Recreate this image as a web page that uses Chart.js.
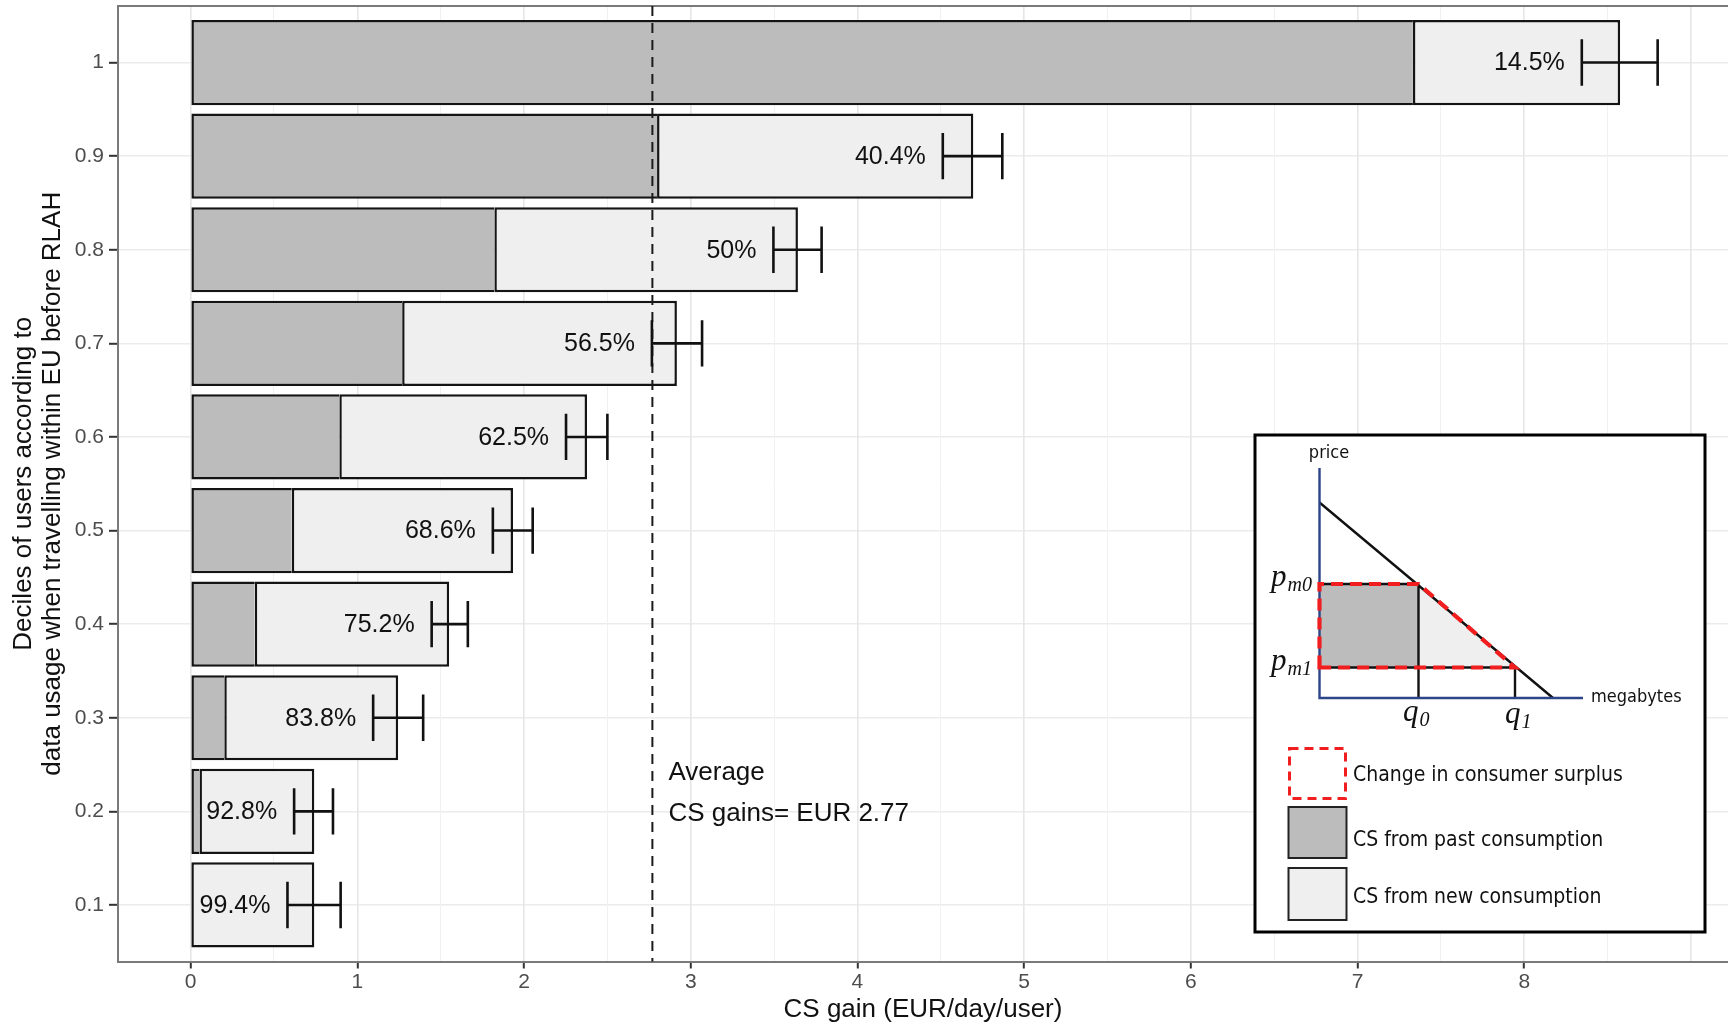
<!DOCTYPE html>
<html>
<head>
<meta charset="utf-8">
<script src="https://cdn.jsdelivr.net/npm/chart.js@4.4.1/dist/chart.umd.min.js"></script>
<style>
html,body{margin:0;padding:0;background:#fff;overflow:hidden}
#wrap{position:relative;width:1728px;height:1027px}
</style>
</head>
<body>
<div id="wrap"><canvas id="c" width="1728" height="1027"></canvas></div>
<script>
// ---------- data ----------
const deciles      = [0.1, 0.2, 0.3, 0.4, 0.5, 0.6, 0.7, 0.8, 0.9, 1.0];
const yTickLabels  = ['0.1','0.2','0.3','0.4','0.5','0.6','0.7','0.8','0.9','1'];
const xTickLabels  = [0, 1, 2, 3, 4, 5, 6, 7, 8];
const pastGain     = [0.0045, 0.053, 0.202, 0.385, 0.607, 0.892, 1.269, 1.822, 2.798, 7.332];
const totalGain    = [0.742, 0.742, 1.245, 1.551, 1.934, 2.378, 2.917, 3.643, 4.695, 8.575];
const errLow       = [0.581, 0.621, 1.095, 1.446, 1.813, 2.252, 2.767, 3.496, 4.512, 8.345];
const errHigh      = [0.900, 0.854, 1.395, 1.663, 2.052, 2.500, 3.068, 3.785, 4.869, 8.800];
const shareLabels  = ['99.4%','92.8%','83.8%','75.2%','68.6%','62.5%','56.5%','50%','40.4%','14.5%'];
const avgGain      = 2.77;
const avgText      = ['Average', 'CS gains= EUR 2.77'];
const xTitle       = 'CS gain (EUR/day/user)';
const yTitle       = ['Deciles of users according to', 'data usage when travelling within EU before RLAH'];
const legendLabels = ['Change in consumer surplus', 'CS from past consumption', 'CS from new consumption'];
const seriesNames  = ['CS from past consumption', 'CS from new consumption'];

const DARK = '#bcbcbc', LIGHT = '#efefef', EDGE = '#141414';
const SANS = '"Liberation Sans", Arial, Helvetica, sans-serif';
const INSET = '"DejaVu Sans Condensed", "DejaVu Sans", sans-serif';
const MATH = '"Liberation Serif", "DejaVu Serif", serif';

function mathLabel(ctx, base, sub, x, by, align) {
  ctx.font = 'italic 31px ' + MATH;
  const wb = ctx.measureText(base).width;
  ctx.font = 'italic 20px ' + MATH;
  const ws = ctx.measureText(sub).width;
  const sx = align === 'right' ? x - wb - ws - 1 : x;
  ctx.textAlign = 'left';
  ctx.textBaseline = 'alphabetic';
  ctx.font = 'italic 31px ' + MATH;
  ctx.fillText(base, sx, by);
  ctx.font = 'italic 20px ' + MATH;
  ctx.fillText(sub, sx + wb + 1, by + 5);
}

const decor = {
  id: 'decor',
  afterDatasetsDraw(chart) {
    const ctx = chart.ctx, xs = chart.scales.x, ys = chart.scales.y, ca = chart.chartArea;
    const meta = chart.getDatasetMeta(0);
    const barH = meta.data[0] ? meta.data[0].height : 84;
    ctx.save();
    // top panel border
    ctx.strokeStyle = '#7a7a7a'; ctx.lineWidth = 2;
    ctx.beginPath(); ctx.moveTo(ca.left, ca.top); ctx.lineTo(ca.right, ca.top); ctx.stroke();

    // dashed average line
    const ax = xs.getPixelForValue(avgGain);
    ctx.strokeStyle = '#1a1a1a'; ctx.lineWidth = 2; ctx.setLineDash([10, 7]);
    ctx.beginPath(); ctx.moveTo(ax, ca.top); ctx.lineTo(ax, ca.bottom); ctx.stroke();
    ctx.setLineDash([]);

    // error bars + share labels
    ctx.strokeStyle = '#111'; ctx.lineWidth = 2.6;
    for (let i = 0; i < deciles.length; i++) {
      const y = ys.getPixelForValue(deciles[i]);
      const x1 = xs.getPixelForValue(errLow[i]);
      const x2 = xs.getPixelForValue(errHigh[i]);
      const h = barH * 0.272;
      ctx.beginPath();
      ctx.moveTo(x1, y); ctx.lineTo(x2, y);
      ctx.moveTo(x1, y - h); ctx.lineTo(x1, y + h);
      ctx.moveTo(x2, y - h); ctx.lineTo(x2, y + h);
      ctx.stroke();
      ctx.fillStyle = '#111';
      ctx.font = '25px ' + SANS;
      ctx.textAlign = 'right'; ctx.textBaseline = 'middle';
      ctx.fillText(shareLabels[i], x1 - 17, y + 1);
    }

    // average annotation
    const y02 = ys.getPixelForValue(0.2);
    ctx.font = '26px ' + SANS; ctx.textAlign = 'left'; ctx.textBaseline = 'middle'; ctx.fillStyle = '#111';
    ctx.fillText(avgText[0], ax + 16, y02 - 39);
    ctx.fillText(avgText[1], ax + 16, y02 + 2);

    // axis titles
    ctx.font = '26px ' + SANS; ctx.fillStyle = '#111';
    ctx.textAlign = 'center'; ctx.textBaseline = 'middle';
    ctx.fillText(xTitle, (ca.left + ca.right) / 2, 1010);
    const cy = (ca.top + ca.bottom) / 2;
    [24, 53].forEach((cx, k) => {
      ctx.save(); ctx.translate(cx, cy); ctx.rotate(-Math.PI / 2);
      ctx.fillText(yTitle[k], 0, 0); ctx.restore();
    });

    // ---------- inset explanatory box ----------
    ctx.fillStyle = '#fff';
    ctx.fillRect(1255, 435, 450, 497);
    ctx.strokeStyle = '#000'; ctx.lineWidth = 3;
    ctx.strokeRect(1255, 435, 450, 497);

    const ox = 1319.5, oy = 698, pm0 = 584, pm1 = 667.5, q0 = 1418.5, q1 = 1515;
    ctx.fillStyle = DARK; ctx.fillRect(ox, pm0, q0 - ox, pm1 - pm0);
    ctx.fillStyle = LIGHT;
    ctx.beginPath(); ctx.moveTo(q0, pm0); ctx.lineTo(q0, pm1); ctx.lineTo(q1, pm1); ctx.closePath(); ctx.fill();

    ctx.strokeStyle = '#111'; ctx.lineWidth = 2.4;
    ctx.beginPath();
    ctx.moveTo(ox, 502.5); ctx.lineTo(1553, 698);
    ctx.moveTo(ox, pm0); ctx.lineTo(q0, pm0);
    ctx.moveTo(ox, pm1); ctx.lineTo(q1, pm1);
    ctx.moveTo(q0, pm0); ctx.lineTo(q0, oy);
    ctx.moveTo(q1, pm1); ctx.lineTo(q1, oy);
    ctx.stroke();

    ctx.strokeStyle = '#2c4488'; ctx.lineWidth = 2.4;
    ctx.beginPath(); ctx.moveTo(ox, 468); ctx.lineTo(ox, oy); ctx.lineTo(1583, oy); ctx.stroke();

    ctx.strokeStyle = '#f01e1e'; ctx.lineWidth = 4.2; ctx.setLineDash([12, 7]);
    ctx.beginPath(); ctx.moveTo(ox, pm1); ctx.lineTo(ox, pm0); ctx.lineTo(q0, pm0); ctx.lineTo(q1, pm1); ctx.closePath(); ctx.stroke();
    ctx.setLineDash([]);

    ctx.fillStyle = '#111';
    ctx.font = '18px ' + INSET; ctx.textAlign = 'center'; ctx.textBaseline = 'middle';
    ctx.fillText('price', 1329, 453);
    ctx.textAlign = 'left';
    ctx.fillText('megabytes', 1591, 697, 100);
    mathLabel(ctx, 'p', 'm0', 1312, 586, 'right');
    mathLabel(ctx, 'p', 'm1', 1312, 670, 'right');
    mathLabel(ctx, 'q', '0', 1403, 721, 'left');
    mathLabel(ctx, 'q', '1', 1505, 723, 'left');

    // legend keys
    ctx.strokeStyle = '#f01e1e'; ctx.lineWidth = 3; ctx.setLineDash([9, 6]);
    ctx.strokeRect(1289.5, 748.5, 56, 50);
    ctx.setLineDash([]);
    ctx.strokeStyle = '#222'; ctx.lineWidth = 2;
    ctx.fillStyle = DARK; ctx.fillRect(1288.5, 807, 58, 51); ctx.strokeRect(1288.5, 807, 58, 51);
    ctx.fillStyle = LIGHT; ctx.fillRect(1288.5, 868, 58, 52); ctx.strokeRect(1288.5, 868, 58, 52);
    ctx.fillStyle = '#111';
    ctx.font = '21px ' + INSET; ctx.textAlign = 'left'; ctx.textBaseline = 'middle';
    ctx.fillText(legendLabels[0], 1353, 776, 272);
    ctx.fillText(legendLabels[1], 1353, 841, 253);
    ctx.fillText(legendLabels[2], 1353, 898, 253);
    ctx.restore();
  }
};

new Chart(document.getElementById('c'), {
  type: 'bar',
  data: {
    datasets: [
      {
        label: seriesNames[0],
        data: deciles.map((d, i) => ({ y: d, x: [0, pastGain[i]] })),
        backgroundColor: DARK,
        borderColor: EDGE,
        borderWidth: { left: 2.5, top: 2.5, bottom: 2.5, right: 0 },
        borderSkipped: false,
        inflateAmount: 0,
        grouped: false,
        barPercentage: 0.91,
        categoryPercentage: 1
      },
      {
        label: seriesNames[1],
        data: deciles.map((d, i) => ({ y: d, x: [pastGain[i], totalGain[i]] })),
        backgroundColor: LIGHT,
        borderColor: EDGE,
        borderWidth: 2.5,
        borderSkipped: false,
        inflateAmount: 0,
        grouped: false,
        barPercentage: 0.91,
        categoryPercentage: 1
      }
    ]
  },
  options: {
    indexAxis: 'y',
    responsive: false,
    devicePixelRatio: 1,
    animation: false,
    layout: { padding: { top: 6, right: 0, bottom: 0, left: 0 } },
    plugins: { legend: { display: false }, tooltip: { enabled: false } },
    scales: {
      y: {
        type: 'linear',
        offset: false,
        min: 0.0396,
        max: 1.0604,
        afterBuildTicks: (s) => { s.ticks = deciles.map(v => ({ value: v })); },
        afterFit: (s) => { s.width = 118; s.paddingTop = 0; s.paddingBottom = 0; },
        ticks: {
          callback: (v, i) => yTickLabels[i],
          font: { family: SANS, size: 21 },
          color: '#4d4d4d',
          padding: 5,
          autoSkip: false
        },
        grid: {
          offset: false,
          color: '#ebebeb', lineWidth: 1.6,
          tickLength: 9, tickColor: '#333', tickWidth: 2
        },
        border: { display: true, color: '#7a7a7a', width: 2 }
      },
      x: {
        type: 'linear',
        offset: false,
        min: -0.4355,
        max: 9.222,
        afterBuildTicks: (s) => {
          const t = [];
          for (let v = 0; v <= 9; v += 0.5) t.push({ value: v });
          s.ticks = t;
        },
        afterFit: (s) => { s.height = 65.5; s.paddingLeft = 0; s.paddingRight = 0; },
        ticks: {
          callback: (v) => (xTickLabels.includes(v) ? String(v) : ''),
          font: { family: SANS, size: 21 },
          color: '#4d4d4d',
          padding: 1,
          autoSkip: false,
          maxRotation: 0
        },
        grid: {
          offset: false,
          color: (c) => (c.tick && Number.isInteger(c.tick.value) ? '#e6e6e6' : '#f1f1f1'),
          lineWidth: (c) => (c.tick && Number.isInteger(c.tick.value) ? 1.6 : 1),
          tickLength: 7,
          tickColor: (c) => (c.tick && xTickLabels.includes(c.tick.value) ? '#333' : 'rgba(0,0,0,0)'),
          tickWidth: 2
        },
        border: { display: true, color: '#7a7a7a', width: 2 }
      }
    }
  },
  plugins: [decor]
});
</script>
</body>
</html>
